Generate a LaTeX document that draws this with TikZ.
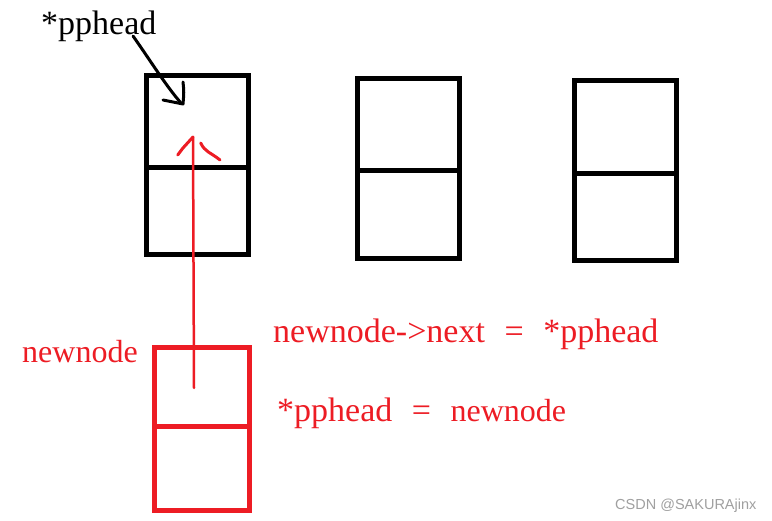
\documentclass[tikz,border=0pt]{standalone}
\usepackage{fontspec}
\newfontfamily\simf[WordSpace=2.3]{Liberation Serif}
\newfontfamily\wmf{Liberation Sans}
\definecolor{pred}{HTML}{ED1C24}
\definecolor{wmgray}{HTML}{A0A0A0}
\begin{document}
\begin{tikzpicture}[x=1pt,y=-1pt,
  cell/.style 2 args={draw,line width=5pt,inner sep=0pt,minimum width=#1pt,minimum height=#2pt},
  lab/.style={font=\simf\fontsize{34}{40}\selectfont,inner sep=0pt,anchor=base west},
  pen/.style={line width=3pt,line cap=round,line join=round},
  wm/.style={font=\wmf\fontsize{14.5}{17}\selectfont,text=wmgray,inner sep=0pt,anchor=base west}]
\useasboundingbox[fill=white] (0,0) rectangle (772,521);
% linked list boxes
\node[cell={101.4}{92.1}] (b1t) at (197.5,121.25) {};
\node[cell={101.4}{86.9}] (b1b) at (197.5,210.75) {};
\node[cell={102}{92.5}] (b2t) at (408.5,124.75) {};
\node[cell={102}{87.5}] (b2b) at (408.5,214.75) {};
\node[cell={102}{92.5}] (b3t) at (625.8,127) {};
\node[cell={102}{86.9}] (b3b) at (625.8,216.7) {};
% new node (red)
\node[cell={95}{79.5},draw=pred] (nt) at (202,387.25) {};
\node[cell={95}{83.5},draw=pred] (nb) at (202,468.75) {};
% texts
\node[lab] (pp) at (41,35) {*pphead};
\node[lab,text=pred,font=\simf\fontsize{32}{38}\selectfont] (nn) at (22,363) {newnode};
\node[lab,text=pred] (s1) at (273,343) {newnode->next = *pphead};
\node[lab,text=pred] (s2) at (277,422) {*pphead = {\fontsize{32}{38}\selectfont newnode}};
\node[wm] (wmk) at (615,510) {CSDN @SAKURAjinx};
% black hand-drawn arrow
\coordinate (bs) at (133,36);
\coordinate (be) at (181,103);
\draw[pen] (bs) .. controls (150,60) and (166,86) .. (be);
\draw[pen] (183,82) .. controls (184,92) .. (183,104) -- (163,100);
% red hand-drawn arrow
\coordinate (rs) at (194,388);
\coordinate (rtip) at (193,137);
\draw[pen,draw=pred,line width=2.5pt] (rs) -- (rtip);
\draw[pen,draw=pred] (177.7,155) -- (183,148) -- (rtip);
\draw[pen,draw=pred] (200.7,143) .. controls (205,152) and (210,152) .. (220,160);
\end{tikzpicture}
\end{document}
